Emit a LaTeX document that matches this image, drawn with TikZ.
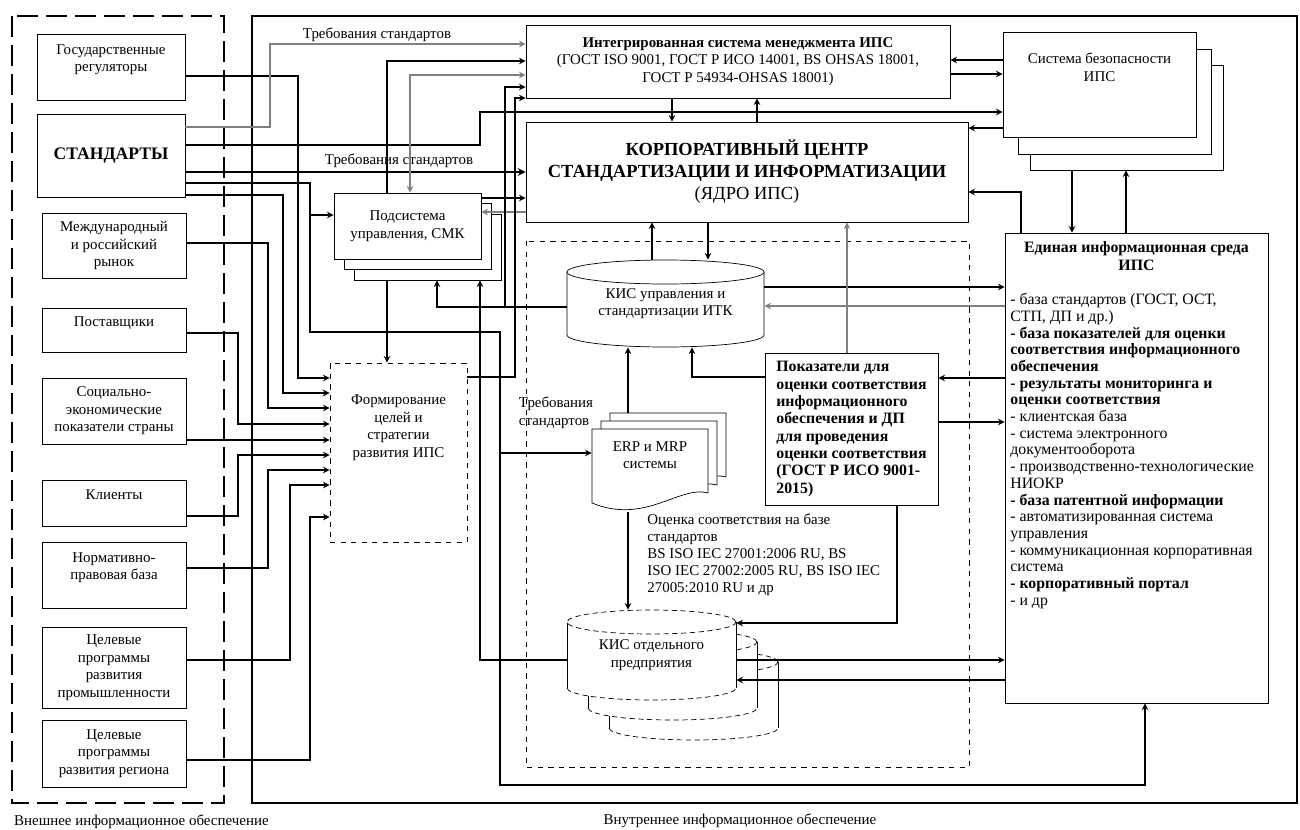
\documentclass[tikz,border=0pt]{standalone}
\usepackage{fontspec}
\setmainfont{Liberation Serif}

\begin{document}
\begin{tikzpicture}[>=stealth, x=0.2mm, y=-0.2mm,
    every node/.style={font=\fontsize{8.5}{10}\selectfont, align=center},
    box/.style={draw, rectangle, fill=white, inner sep=2pt},
    leftbox/.style={box, minimum width=28.8mm},
    sbbox/.style={box, minimum width=38.6mm, minimum height=21mm},
    smkbox/.style={box, minimum width=29.4mm, minimum height=13.2mm},
    link/.style={line width=0.7pt}]
      \useasboundingbox (0,0) rectangle (1300,829);

      % Frames
      \draw[line width=1.4pt, dash pattern=on 12pt off 4.5pt] (12,16) rectangle (224,803);
      \draw[line width=1.2pt] (252,16) rectangle (1297,803);
      \draw[dashed] (526,241) rectangle (969,767);
      \node[anchor=west] (extlabel) at (8,822) {Внешнее информационное обеспечение};
      \node (intlabel) at (740,821) {Внутреннее информационное обеспечение};

      % Left column of boxes
      \node[box, minimum width=29.6mm, minimum height=13.2mm] (gos) at (111,67) {Государственные\\регуляторы\\~};
      \node[box, minimum width=29.6mm, minimum height=16.6mm, font=\fontsize{10}{12}\selectfont\bfseries] (std) at (111,155.5) {СТАНДАРТЫ};
      \node[leftbox, minimum height=13mm] (mkt) at (114,245.5) {Международный\\и российский\\рынок};
      \node[leftbox, minimum height=8.8mm] (sup) at (114,330) {Поставщики\\~};
      \node[leftbox, minimum height=13.2mm] (soc) at (114,411) {Социально-\\экономические\\показатели страны};
      \node[leftbox, minimum height=9.2mm] (cli) at (114,503) {Клиенты\\~};
      \node[leftbox, minimum height=13.2mm] (norm) at (114,575) {Нормативно-\\правовая база\\~};
      \node[leftbox, minimum height=16.2mm] (tpi) at (114,667.5) {Целевые\\программы\\развития\\промышленности};
      \node[leftbox, minimum height=13.4mm] (tpr) at (114,753.5) {Целевые\\программы\\развития региона};

      % Upper row
      \node[box, minimum width=84.8mm, minimum height=14.6mm] (ism) at (738,61.5) {\textbf{Интегрированная система менеджмента ИПС}\\(ГОСТ ISO 9001, ГОСТ Р ИСО 14001, BS OHSAS 18001,\\ГОСТ Р 54934-OHSAS 18001)};
      \node[box, minimum width=88.4mm, minimum height=20mm, font=\fontsize{10.5}{12.5}\selectfont] (kcs) at (747,172) {\textbf{КОРПОРАТИВНЫЙ ЦЕНТР}\\\textbf{СТАНДАРТИЗАЦИИ И ИНФОРМАТИЗАЦИИ}\\(ЯДРО ИПС)};
      \node[sbbox] (sb3) at (1127,117.5) {};
      \node[sbbox] (sb2) at (1115,101.5) {};
      \node[sbbox] (sb) at (1099.5,84.5) {Система безопасности\\ИПС\\~\\~};

      % Right box
      \node[box, minimum width=52.6mm, minimum height=94mm] (eis) at (1136.5,468) {};
      \node[font=\fontsize{9}{10.5}\selectfont\bfseries] (eistitle) at (1136.5,256) {Единая информационная среда\\ИПС};
      \node[anchor=north west, font=\fontsize{9}{9.5}\selectfont, align=left, inner sep=0pt] (eislist) at (1010,293) {- база стандартов (ГОСТ, ОСТ,\\СТП, ДП и др.)\\\textbf{- база показателей для оценки}\\\textbf{соответствия информационного}\\\textbf{обеспечения}\\\textbf{- результаты мониторинга и}\\\textbf{оценки соответствия}\\- клиентская база\\- система электронного\\документооборота\\- производственно-технологические\\НИОКР\\\textbf{- база патентной информации}\\- автоматизированная система\\управления\\- коммуникационная корпоративная\\система\\\textbf{- корпоративный портал}\\- и др};

      % Middle column
      \node[smkbox] (smk3) at (428,247) {};
      \node[smkbox] (smk2) at (418,236) {};
      \node[smkbox] (smk) at (407.5,226) {Подсистема\\управления, СМК};
      \node[box, dashed, minimum width=27.4mm, minimum height=35.8mm] (form) at (398.5,452.5) {Формирование\\целей и\\стратегии\\развития ИПС\\~\\~\\~};

      % Databases and documents
      \draw[fill=white] (567,272) -- (567,335) arc[start angle=180, end angle=360, x radius=19.7mm, y radius=2.4mm] -- (764,272) -- cycle;
      \draw[fill=white] (665.5,272) ellipse [x radius=19.7mm, y radius=2.4mm];
      \node[minimum width=39.4mm, minimum height=17.4mm] (kisu) at (665.5,303.5) {КИС управления и\\стандартизации ИТК};

      \foreach \dx/\dy in {42/40, 21/20, 0/0} {
        \begin{scope}[shift={(\dx,\dy)}]
          \fill[white] (567,622) -- (567,688) arc[start angle=180, end angle=360, x radius=16.9mm, y radius=2.4mm] -- (736,622) -- cycle;
          \draw (567,622) -- (567,688) (736,622) -- (736,688);
          \draw[densely dashed] (567,688) arc[start angle=180, end angle=360, x radius=16.9mm, y radius=2.4mm];
          \draw[densely dashed, fill=white] (651.5,622) ellipse [x radius=16.9mm, y radius=2.4mm];
        \end{scope}
      }
      \node[minimum width=33.8mm, minimum height=18mm] (kiso) at (651.5,655) {КИС отдельного\\предприятия};

      \foreach \dx/\dy in {18/-16, 9/-8, 0/0} {
        \draw[fill=white, shift={(\dx,\dy)}] (592,429) -- (708,429) -- (708,493) .. controls (680,485) and (645,525) .. (592,503) -- cycle;
      }
      \node[minimum width=23.2mm, minimum height=10.4mm] (erp) at (650,455) {ERP и MRP\\системы};
      \coordinate (erptop) at (628,413);
      \coordinate (erpbot) at (628,512);

      \node[box, minimum width=34.6mm, minimum height=30.4mm, align=left, font=\fontsize{9}{9.9}\selectfont\bfseries] (pok) at (851.5,429) {Показатели для\\оценки соответствия\\информационного\\обеспечения и ДП\\для проведения\\оценки соответствия\\(ГОСТ Р ИСО 9001-\\2015)};

      % Labels
      \node (req1) at (377,35) {Требования стандартов};
      \node (req2) at (399,161) {Требования стандартов};
      \node[align=left] (req3) at (556,413) {Требования\\стандартов};
      \node[anchor=north west, align=left, inner sep=0pt, font=\fontsize{8.5}{9.7}\selectfont] (assess) at (647,513) {Оценка соответствия на базе\\стандартов\\BS ISO IEC 27001:2006 RU, BS\\ISO IEC 27002:2005 RU, BS ISO IEC\\27005:2010 RU и др};

      % Arrows into the strategy box
      \draw[link, ->] (gos.east |- 0,76) -| (298,378) -- (form.west |- 0,378);
      \draw[link, ->, thick] (std.east |- 0,195) -| (283,393) -- (form.west |- 0,393);
      \draw[link, ->] (mkt.east |- 0,243) -| (268,408) -- (form.west |- 0,408);
      \draw[link, ->] (sup.east |- 0,333) -| (238,424) -- (form.west |- 0,424);
      \draw[link, ->] (soc.east |- 0,440) -- (form.west |- 0,440);
      \draw[link, ->] (cli.east |- 0,516) -| (238,455) -- (form.west |- 0,455);
      \draw[link, ->] (norm.east |- 0,568) -| (268,470) -- (form.west |- 0,470);
      \draw[link, ->] (tpi.east |- 0,660) -| (290,485) -- (form.west |- 0,485);
      \draw[link, ->] (tpr.east |- 0,760) -| (310,517) -- (form.west |- 0,517);

      % Standards
      \draw[link, ->, gray] (std.east |- 0,127) -| (270,44) -- (ism.west |- 0,44);
      \draw[link, ->] (std.east |- 0,145) -| (480,112) -- (sb.west |- 0,112);
      \draw[link, ->, line width=1pt] (std.east |- 0,172) -- (kcs.west |- 0,172);
      \draw[link, ->] (std.east |- 0,183) -| (310,332) -| (500,785) -| (eis.south -| 1145,0);
      \draw[link, ->] (310,215) -- (smk.west |- 0,215);
      \draw[link, ->] (500,453) -- (erp.west |- 0,453);

      % Subsystem links
      \draw[link, ->] (smk.north -| 387,0) |- (ism.west |- 0,61);
      \draw[link, <->, gray] (smk.north -| 410,0) |- (ism.west |- 0,75);
      \draw[link, ->] (smk.east |- 0,198) -- (kcs.west |- 0,198);
      \draw[link, ->, gray] (kcs.west |- 0,212) -- (smk.east |- 0,212);
      \draw[link, ->] (smk3.south -| 387,0) -- (form.north -| 387,0);
      \draw[link, ->] (form.east |- 0,377) -| (515,98) -- (ism.west |- 0,98);

      % Database links
      \draw[link, ->] (kisu.west |- 0,307) -| (smk3.south -| 437,0);
      \draw[link, ->] (505,307) |- (ism.west |- 0,87);
      \draw[link, ->] (kiso.west |- 0,660) -| (smk3.south -| 480,0);
      \draw[link, ->] (kiso.east |- 0,660) -- (eis.west |- 0,660);
      \draw[link, ->] (eis.west |- 0,680) -- (kiso.east |- 0,680);
      \draw[link, ->] (pok.south -| 897,0) |- (kiso.east |- 0,623);
      \draw[link, ->] (erpbot) -- (kiso.north -| 628,0);
      \draw[link, ->] (erptop) -- (kisu.south -| 628,0);
      \draw[link, ->] (pok.west |- 0,377) -| (kisu.south -| 692,0);
      \draw[link, ->] (kisu.north -| 652,0) -- (kcs.south -| 652,0);
      \draw[link, ->] (kcs.south -| 708,0) -- (kisu.north -| 708,0);
      \draw[link, ->] (kisu.east |- 0,287) -- (eis.west |- 0,287);
      \draw[link, ->, gray] (eis.west |- 0,306) -- (kisu.east |- 0,306);
      \draw[link, ->] (eis.west |- 0,378) -- (pok.east |- 0,378);
      \draw[link, ->] (pok.east |- 0,422) -- (eis.west |- 0,422);
      \draw[link, ->, gray] (pok.north -| 847,0) -- (kcs.south -| 847,0);

      % Top links
      \draw[link, ->] (ism.south -| 672,0) -- (kcs.north -| 672,0);
      \draw[link, ->] (kcs.north -| 757,0) -- (ism.south -| 757,0);
      \draw[link, ->] (sb.west |- 0,60) -- (ism.east |- 0,60);
      \draw[link, ->] (ism.east |- 0,74) -- (sb.west |- 0,74);
      \draw[link, ->] (sb.west |- 0,128) -- (kcs.east |- 0,128);
      \draw[link, ->] (sb3.south -| 1072,0) -- (eis.north -| 1072,0);
      \draw[link, ->] (eis.north -| 1126,0) -- (sb3.south -| 1126,0);
      \draw[link, ->] (eis.north -| 1021,0) |- (kcs.east |- 0,192);
\end{tikzpicture}
\end{document}
